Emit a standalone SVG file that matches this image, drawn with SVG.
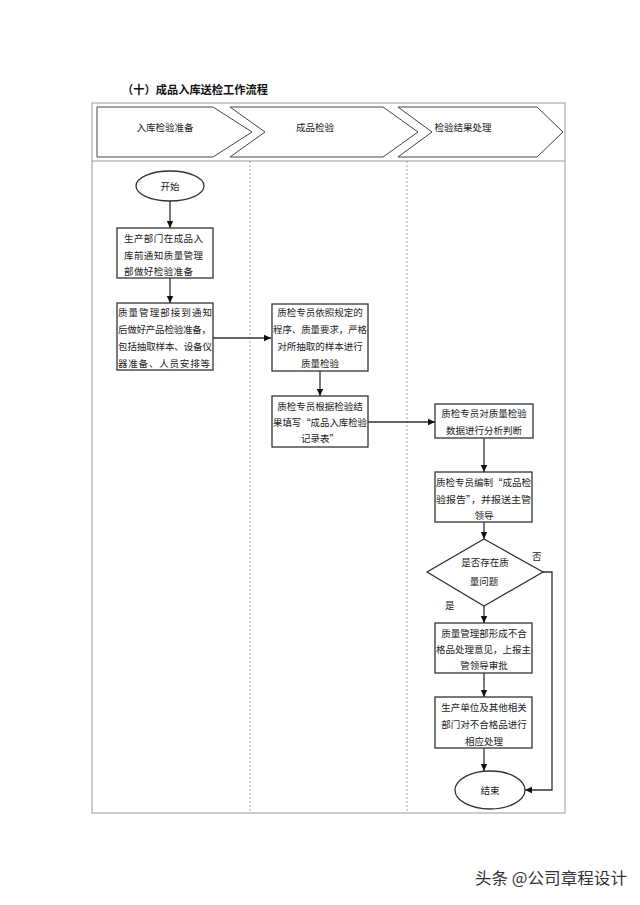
<svg xmlns="http://www.w3.org/2000/svg" width="640" height="905" viewBox="0 0 640 905">
<defs>
<marker id="ah" markerWidth="8" markerHeight="8" refX="7" refY="4" orient="auto" markerUnits="userSpaceOnUse">
<path d="M0,0.8 L7,4 L0,7.2 Z" fill="#111"/>
</marker>
<style>
.t{font-family:"Noto Sans CJK SC","Liberation Sans",sans-serif;font-size:9.5px;fill:#222}
.c{text-anchor:middle}
.box{fill:#fff;stroke:#333;stroke-width:1.3}
.chev{fill:#fff;stroke:#444;stroke-width:1}
.ln{fill:none;stroke:#333;stroke-width:1.3}
.lane{stroke:#888;stroke-width:0.8;stroke-dasharray:2,2}
</style>
</defs>
<rect width="640" height="905" fill="#fff"/>
<text x="122" y="94" textLength="146" lengthAdjust="spacingAndGlyphs" style="font-family:'Noto Sans CJK SC',sans-serif;font-size:11.5px;font-weight:bold;fill:#111">（十）成品入库送检工作流程</text>

<g id="frame">
<rect x="92" y="103" width="473" height="710" fill="none" stroke="#999" stroke-width="1"/>
<line x1="92" y1="161" x2="565" y2="161" stroke="#999" stroke-width="1"/>
<line class="lane" x1="250" y1="161" x2="250" y2="813"/>
<line class="lane" x1="407" y1="161" x2="407" y2="813"/>
</g>

<g id="lane1">
<polygon class="chev" points="97,107 213,107 252,132 213,157 97,157"/>
<text class="t c" x="165" y="131">入库检验准备</text>
</g>
<g id="lane2">
<polygon class="chev" points="230,107 383,107 418,132 383,157 230,157 265,132"/>
<text class="t c" x="315" y="131">成品检验</text>
</g>
<g id="lane3">
<polygon class="chev" points="398,107 537,107 563,132 537,157 398,157 432,132"/>
<text class="t c" x="463" y="131">检验结果处理</text>
</g>

<g id="connectors">
<line class="ln" x1="170" y1="201" x2="170" y2="228" marker-end="url(#ah)"/>
<line class="ln" x1="170" y1="278" x2="170" y2="303" marker-end="url(#ah)"/>
<line class="ln" x1="213" y1="338" x2="271" y2="338" marker-end="url(#ah)"/>
<line class="ln" x1="320" y1="371" x2="320" y2="396" marker-end="url(#ah)"/>
<line class="ln" x1="368" y1="422" x2="435" y2="422" marker-end="url(#ah)"/>
<line class="ln" x1="484" y1="438" x2="484" y2="472" marker-end="url(#ah)"/>
<line class="ln" x1="484" y1="522" x2="484" y2="539" marker-end="url(#ah)"/>
<line class="ln" x1="484" y1="606" x2="484" y2="623" marker-end="url(#ah)"/>
<line class="ln" x1="484" y1="673" x2="484" y2="697" marker-end="url(#ah)"/>
<line class="ln" x1="484" y1="748" x2="484" y2="771" marker-end="url(#ah)"/>
<polyline class="ln" points="543,572 552,572 552,790 525,790" marker-end="url(#ah)"/>
<text class="t" x="532" y="560">否</text>
<text class="t" x="445" y="609">是</text>
</g>

<g id="start">
<ellipse cx="170" cy="186" rx="34" ry="15" class="box"/>
<text class="t c" x="170" y="190">开始</text>
</g>

<g id="n1">
<rect class="box" x="117" y="228" width="96" height="50"/>
<text class="t" x="124" y="242" textLength="79" lengthAdjust="spacing">生产部门在成品入</text>
<text class="t" x="124" y="259" textLength="79" lengthAdjust="spacing">库前通知质量管理</text>
<text class="t" x="124" y="275" textLength="69" lengthAdjust="spacing">部做好检验准备</text>
</g>

<g id="n2">
<rect class="box" x="117" y="303" width="96" height="67"/>
<text class="t" x="118" y="316" textLength="94" lengthAdjust="spacing">质量管理部接到通知</text>
<text class="t" x="118" y="333" textLength="93" lengthAdjust="spacing">后做好产品检验准备，</text>
<text class="t" x="118" y="350" textLength="94" lengthAdjust="spacing">包括抽取样本、设备仪</text>
<text class="t" x="118" y="367" textLength="92" lengthAdjust="spacing">器准备、人员安排等</text>
</g>

<g id="n3">
<rect class="box" x="272" y="304" width="96" height="67"/>
<text class="t c" x="320" y="316">质检专员依照规定的</text>
<text class="t" x="273" y="333" textLength="94" lengthAdjust="spacingAndGlyphs">程序、质量要求，严格</text>
<text class="t c" x="320" y="350">对所抽取的样本进行</text>
<text class="t c" x="320" y="367">质量检验</text>
</g>

<g id="n4">
<rect class="box" x="272" y="396" width="96" height="51"/>
<text class="t c" x="320" y="410">质检专员根据检验结</text>
<text class="t" x="273" y="426" textLength="94" lengthAdjust="spacingAndGlyphs">果填写“成品入库检验</text>
<text class="t c" x="320" y="442">记录表”</text>
</g>

<g id="n5">
<rect class="box" x="435" y="404" width="98" height="34"/>
<text class="t c" x="484" y="417">质检专员对质量检验</text>
<text class="t c" x="484" y="434">数据进行分析判断</text>
</g>

<g id="n6">
<rect class="box" x="435" y="472" width="97" height="50"/>
<text class="t" x="436" y="486" textLength="95" lengthAdjust="spacingAndGlyphs">质检专员编制“成品检</text>
<text class="t" x="436" y="503" textLength="95" lengthAdjust="spacingAndGlyphs">验报告”，并报送主管</text>
<text class="t c" x="484" y="519">领导</text>
</g>

<g id="d1">
<polygon class="box" points="484,539 543,572 484,606 427,572"/>
<text class="t c" x="485" y="566">是否存在质</text>
<text class="t c" x="484" y="585">量问题</text>
</g>

<g id="n7">
<rect class="box" x="435" y="623" width="97" height="50"/>
<text class="t c" x="484" y="637">质量管理部形成不合</text>
<text class="t" x="436" y="653" textLength="95" lengthAdjust="spacingAndGlyphs">格品处理意见，上报主</text>
<text class="t c" x="484" y="669">管领导审批</text>
</g>

<g id="n8">
<rect class="box" x="435" y="697" width="97" height="51"/>
<text class="t c" x="484" y="711">生产单位及其他相关</text>
<text class="t c" x="484" y="728">部门对不合格品进行</text>
<text class="t c" x="484" y="745">相应处理</text>
</g>

<g id="end">
<ellipse cx="490" cy="790" rx="35" ry="19" class="box"/>
<text class="t c" x="490" y="794">结束</text>
</g>

<text x="475" y="884" textLength="152" lengthAdjust="spacingAndGlyphs" style="font-family:'Noto Sans CJK SC',sans-serif;font-size:16px;fill:#333">头条 @公司章程设计</text>
</svg>
